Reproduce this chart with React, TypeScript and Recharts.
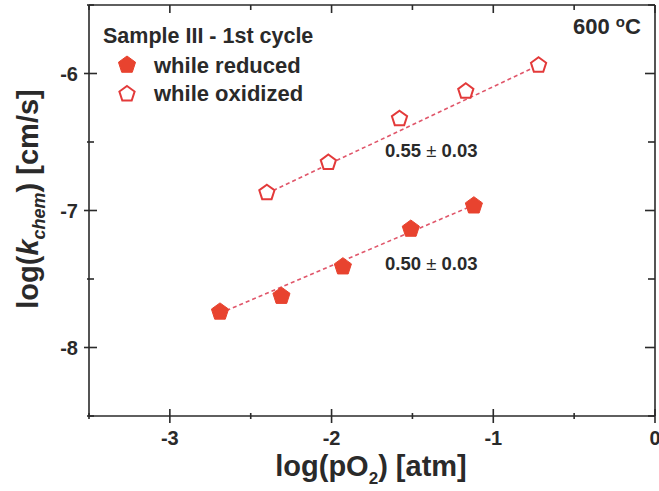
import React from 'react';
import { ScatterChart, Scatter, XAxis, YAxis } from 'recharts';

// log(pO2) [atm] vs log(k_chem) [cm/s], sample III, 1st cycle, 600 °C
const xTicks = [-3.5, -3, -2.5, -2, -1.5, -1, -0.5, 0];
const yTicks = [-8.5, -8, -7.5, -7, -6.5, -6, -5.5];
const xDomain = [-3.5, 0];
const yDomain = [-8.5, -5.5];

const reducedX = [-2.69, -2.31, -1.93, -1.51, -1.12];
const reducedY = [-7.74, -7.625, -7.41, -7.135, -6.965];

const oxidizedX = [-2.4, -2.02, -1.58, -1.17, -0.72];
const oxidizedY = [-6.87, -6.65, -6.33, -6.13, -5.94];

// dashed linear fits, end points
const reducedFitX = [-2.69, -1.12];
const reducedFitY = [-7.75, -6.96];
const oxidizedFitX = [-2.4, -0.72];
const oxidizedFitY = [-6.875, -5.94];

const toPoints = (xs: number[], ys: number[]) => xs.map((x, i) => ({ x, y: ys[i] }));

const W = 659;
const H = 491;
const MARGIN = { top: 5, right: 4, bottom: 0, left: 0 };
const X_AXIS_H = 75;
const Y_AXIS_W = 89;
const PLOT_L = MARGIN.left + Y_AXIS_W;
const PLOT_T = MARGIN.top;
const PLOT_W = W - MARGIN.left - MARGIN.right - Y_AXIS_W;
const PLOT_H = H - MARGIN.top - MARGIN.bottom - X_AXIS_H;

// frame helpers for the top / right edges (same mapping as the chart axes)
const fx = (v: number) => PLOT_L + ((v - xDomain[0]) / (xDomain[1] - xDomain[0])) * PLOT_W;
const fy = (v: number) => PLOT_T + ((yDomain[1] - v) / (yDomain[1] - yDomain[0])) * PLOT_H;

const INK = '#2a2a2a';
const RED = '#e8432f';
const RED_OPEN = '#e33a3a';
const FIT = '#e0566a';
const FONT = '"Liberation Sans", Arial, Helvetica, sans-serif';

function pentagonPoints(cx: number, cy: number, r: number) {
  return Array.from({ length: 5 }, (_, k) => {
    const a = ((-90 + k * 72) * Math.PI) / 180;
    return `${cx + r * Math.cos(a)},${cy + r * Math.sin(a)}`;
  }).join(' ');
}

const FilledPentagon = (p: any) => (
  <polygon points={pentagonPoints(p.cx, p.cy, 9)} fill={RED} stroke={RED} strokeWidth={1} />
);
const OpenPentagon = (p: any) => (
  <polygon points={pentagonPoints(p.cx, p.cy, 8)} fill="#fff" stroke={RED_OPEN} strokeWidth={2} />
);
const NoShape = () => <g />;

const isMajor = (v: number) => Number.isInteger(v);
const tickText = { fill: INK, fontFamily: FONT, fontWeight: 700, fontSize: 20 };

function BottomTick({ x, y, payload }: any) {
  const major = isMajor(payload.value);
  return (
    <g>
      <line x1={x} x2={x} y1={y - (major ? 7 : 3)} y2={y + (major ? 7 : 3)} stroke={INK} strokeWidth={1.6} />
      {major && (
        <text x={x} y={y + 29} textAnchor="middle" {...tickText}>
          {String(payload.value)}
        </text>
      )}
    </g>
  );
}

function LeftTick({ x, y, payload }: any) {
  const major = isMajor(payload.value);
  return (
    <g>
      <line x1={x - (major ? 5 : 2)} x2={x + (major ? 8 : 5)} y1={y} y2={y} stroke={INK} strokeWidth={1.6} />
      {major && (
        <text x={x - 11} y={y} dy="0.35em" textAnchor="end" {...tickText}>
          {String(payload.value)}
        </text>
      )}
    </g>
  );
}

const axisLine = { stroke: INK, strokeWidth: 1.6 };

export default function App() {
  const label = { fill: INK, fontFamily: FONT, fontWeight: 700 };
  const right = PLOT_L + PLOT_W;
  return (
    <div style={{ position: 'absolute', left: 0, top: 0, width: W, height: H, background: '#fff' }}>
      <ScatterChart width={W} height={H} margin={MARGIN}>
        <XAxis
          type="number"
          dataKey="x"
          domain={xDomain}
          allowDataOverflow
          ticks={xTicks}
          interval={0}
          height={X_AXIS_H}
          tickSize={0}
          tickMargin={0}
          tickLine={false}
          axisLine={axisLine}
          tick={BottomTick}
        />
        <YAxis
          type="number"
          dataKey="y"
          domain={yDomain}
          allowDataOverflow
          ticks={yTicks}
          interval={0}
          width={Y_AXIS_W}
          tickSize={0}
          tickMargin={0}
          tickLine={false}
          axisLine={axisLine}
          tick={LeftTick}
        />
        <Scatter
          data={toPoints(reducedFitX, reducedFitY)}
          line={{ stroke: FIT, strokeWidth: 1.6, strokeDasharray: '4 3' }}
          shape={NoShape}
          isAnimationActive={false}
        />
        <Scatter
          data={toPoints(oxidizedFitX, oxidizedFitY)}
          line={{ stroke: FIT, strokeWidth: 1.6, strokeDasharray: '4 3' }}
          shape={NoShape}
          isAnimationActive={false}
        />
        <Scatter
          name="while reduced"
          data={toPoints(reducedX, reducedY)}
          shape={FilledPentagon}
          isAnimationActive={false}
        />
        <Scatter
          name="while oxidized"
          data={toPoints(oxidizedX, oxidizedY)}
          shape={OpenPentagon}
          isAnimationActive={false}
        />
      </ScatterChart>

      <svg width={W} height={H} style={{ position: 'absolute', left: 0, top: 0, pointerEvents: 'none' }}>
        {/* top and right edges of the frame with inward ticks */}
        <line x1={PLOT_L} x2={right} y1={PLOT_T} y2={PLOT_T} stroke={INK} strokeWidth={1.6} />
        <line x1={right} x2={right} y1={PLOT_T} y2={PLOT_T + PLOT_H} stroke={INK} strokeWidth={1.6} />
        {xTicks.map((v) => (
          <line key={`t${v}`} x1={fx(v)} x2={fx(v)} y1={PLOT_T} y2={PLOT_T + (isMajor(v) ? 8 : 5)} stroke={INK} strokeWidth={1.6} />
        ))}
        {yTicks.map((v) => (
          <line key={`r${v}`} x1={right - (isMajor(v) ? 10 : 7)} x2={right} y1={fy(v)} y2={fy(v)} stroke={INK} strokeWidth={1.6} />
        ))}

        <text x={103} y={43} fontSize={21.5} {...label}>Sample III - 1st cycle</text>
        <polygon points={pentagonPoints(127, 65, 9)} fill={RED} stroke={RED} strokeWidth={1} />
        <text x={154} y={73} fontSize={22} {...label}>while reduced</text>
        <polygon points={pentagonPoints(127, 94, 8)} fill="#fff" stroke={RED_OPEN} strokeWidth={2} />
        <text x={154} y={101} fontSize={22} {...label}>while oxidized</text>

        <text x={573} y={34} fontSize={22} {...label}>
          600 <tspan fontSize={15} dy={-7}>o</tspan><tspan dy={7}>C</tspan>
        </text>

        <text x={385} y={157} fontSize={18.5} {...label}>
          0.55 <tspan fontWeight={400}>±</tspan> 0.03
        </text>
        <text x={385} y={270} fontSize={18.5} {...label}>
          0.50 <tspan fontWeight={400}>±</tspan> 0.03
        </text>

        <text x={371} y={476} fontSize={29} textAnchor="middle" {...label}>
          log(pO<tspan fontSize={17} dy={8}>2</tspan><tspan dy={-8}>) [atm]</tspan>
        </text>

        <text transform="translate(38,199) rotate(-90)" fontSize={29} textAnchor="middle" {...label}>
          log(<tspan fontStyle="italic">k</tspan>
          <tspan fontStyle="italic" fontSize={18} dy={7}>chem</tspan>
          <tspan dy={-7}>) [cm/s]</tspan>
        </text>
      </svg>
    </div>
  );
}
